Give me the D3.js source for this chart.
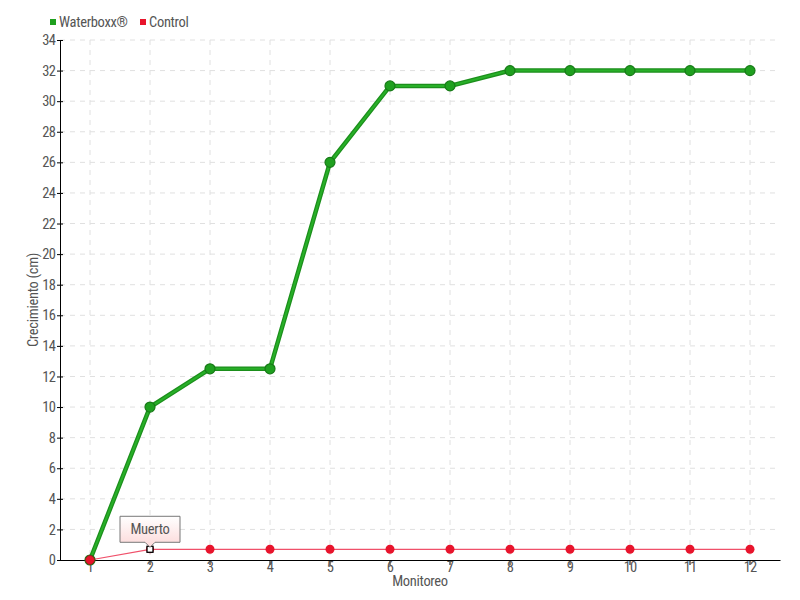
<!DOCTYPE html>
<html><head><meta charset="utf-8">
<script src="https://cdn.jsdelivr.net/npm/d3@7"></script>
<style>body{margin:0;background:#fff}text{font-family:"Roboto Condensed","Roboto",sans-serif}</style>
</head><body><svg id="c" width="800" height="600"></svg>
<script>
const categories=["1","2","3","4","5","6","7","8","9","10","11","12"];
const waterboxx=[0,10,12.5,12.5,26,31,31,32,32,32,32,32];
const control=[0,0.7,0.7,0.7,0.7,0.7,0.7,0.7,0.7,0.7,0.7,0.7];
const yTicks=d3.range(0,35,2);
const seriesNames=["Waterboxx®","Control"];
const annotationText="Muerto";
const annotationIndex=1;

const svg=d3.select("#c");
const L=60,R=780,T=40,B=560;
const x=d3.scaleBand().domain(categories).range([L,R]);
const cx=d=>x(d)+x.bandwidth()/2;
const y=d3.scaleLinear().domain([0,34]).range([B,T]);
const textCol="#555";
const fs=14.5, ls=-0.3;

// grid
svg.append("g").selectAll("line").data(yTicks.slice(1)).join("line")
 .attr("x1",L).attr("x2",R).attr("y1",d=>y(d)).attr("y2",d=>y(d))
 .attr("stroke","#e0e0e0").attr("stroke-dasharray","5,5");
svg.append("g").selectAll("line").data(categories).join("line")
 .attr("x1",cx).attr("x2",cx).attr("y1",T).attr("y2",B)
 .attr("stroke","#e0e0e0").attr("stroke-dasharray","5,5");

// axes
const ya=svg.append("g").attr("transform",`translate(${L},0)`)
 .call(d3.axisLeft(y).tickValues(yTicks).tickSize(3).tickSizeOuter(0));
ya.select(".domain").attr("stroke","#000");
ya.selectAll(".tick line").attr("x1",-3).attr("x2",3).attr("stroke","#000");
ya.selectAll(".tick text").attr("x",-5).attr("fill",textCol).attr("font-size",fs).attr("letter-spacing",-0.8);
const xa=svg.append("g").attr("transform",`translate(0,${B})`)
 .call(d3.axisBottom(x).tickSize(5).tickSizeOuter(0));
xa.select(".domain").attr("stroke","#000");
xa.selectAll(".tick line").attr("stroke","#000");
xa.selectAll(".tick text").attr("fill",textCol).attr("font-size",fs).attr("y",2).attr("letter-spacing",-0.8);

svg.append("text").attr("x",420).attr("y",586).attr("text-anchor","middle")
 .attr("fill",textCol).attr("font-size",fs).attr("letter-spacing",ls).text("Monitoreo");
svg.append("text").attr("transform",`translate(38,300) rotate(-90)`).attr("text-anchor","middle")
 .attr("fill",textCol).attr("font-size",fs).attr("letter-spacing",ls).text("Crecimiento (cm)");

// lines
const line=d3.line().x((d,i)=>cx(categories[i])).y(d=>y(d));
svg.append("path").datum(control).attr("d",line).attr("fill","none").attr("stroke","#f0506a").attr("stroke-width",1.2);
svg.append("path").datum(waterboxx).attr("d",line).attr("fill","none").attr("stroke","#1c8f1c").attr("stroke-width",4.5);
svg.append("path").datum(waterboxx).attr("d",line).attr("fill","none").attr("stroke","#28b028").attr("stroke-width",2);

svg.append("g").selectAll("circle").data(waterboxx).join("circle")
 .attr("cx",(d,i)=>cx(categories[i])).attr("cy",d=>y(d)).attr("r",5)
 .attr("fill","#1fa01f").attr("stroke","#177a17").attr("stroke-width",1.2);
svg.selectAll(".cm").data(control.map((v,i)=>({v,i}))).join("circle").attr("class","cm")
 .attr("cx",d=>cx(categories[d.i])).attr("cy",d=>y(d.v)).attr("r",d=>d.i===annotationIndex?4:4.5)
 .attr("fill","#e8142c").attr("stroke",d=>d.i===0?"#8a2a1a":"none").attr("stroke-width",1);
// annotation marker
const ax=cx(categories[annotationIndex]), ay=y(control[annotationIndex]);
svg.append("rect").attr("x",ax-3).attr("y",ay-3).attr("width",6).attr("height",6)
 .attr("fill","#fff").attr("stroke","#000").attr("stroke-width",1.3);
// callout
const defs=svg.append("defs");
const g=defs.append("linearGradient").attr("id","cg").attr("x1",0).attr("y1",0).attr("x2",0).attr("y2",1);
g.append("stop").attr("offset","0%").attr("stop-color","#fff");
g.append("stop").attr("offset","100%").attr("stop-color","#fcd8d8");
const bw=60,bh=26,bx=ax-30,by=ay-33;
svg.append("path").attr("d",`M${bx},${by} h${bw} v${bh} h-25 l-5,5 l-5,-5 h-25 z`)
 .attr("fill","url(#cg)").attr("stroke","#777").attr("stroke-width",1);
svg.append("text").attr("x",ax).attr("y",by+18).attr("text-anchor","middle")
 .attr("fill",textCol).attr("font-size",fs).attr("letter-spacing",ls).text(annotationText);

// legend
const cols=["#1fa01f","#e8142c"];
const lx=[50,140];
seriesNames.forEach((n,i)=>{
 svg.append("rect").attr("x",lx[i]).attr("y",19).attr("width",6).attr("height",6).attr("fill",cols[i]);
 svg.append("text").attr("x",lx[i]+9).attr("y",27).attr("fill",textCol).attr("font-size",fs).attr("letter-spacing",ls).text(n);
});
</script></body></html>
